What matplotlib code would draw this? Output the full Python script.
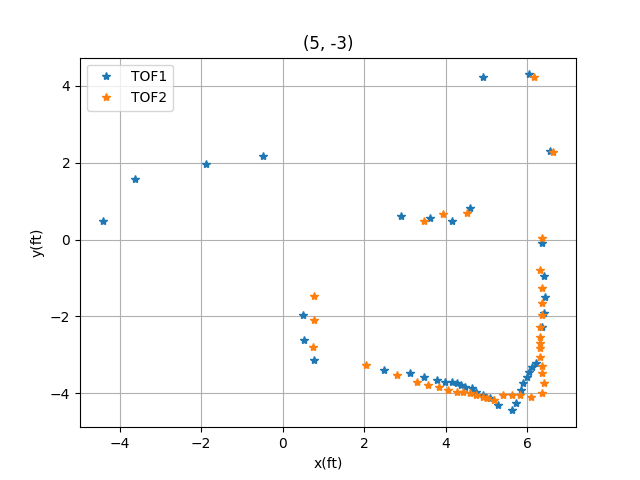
import matplotlib
matplotlib.use('Agg')
import matplotlib.pyplot as plt

# TOF1 readings (ft)
tof1_x = [-4.42, -3.63, -1.89, -0.47, 4.93, 6.06, 6.57,
          2.90, 3.61, 4.15, 4.59,
          0.49, 0.52, 0.76,
          2.50, 3.12, 3.48, 3.78, 3.98, 4.15, 4.27, 4.37, 4.49, 4.64, 4.76,
          4.93, 5.08, 5.30, 5.62, 5.72, 5.86, 5.91, 5.99, 6.06, 6.13, 6.23,
          6.38, 6.41, 6.45, 6.41, 6.38]
tof1_y = [0.49, 1.58, 1.95, 2.18, 4.23, 4.29, 2.30,
          0.60, 0.57, 0.47, 0.83,
          -1.95, -2.60, -3.14,
          -3.38, -3.48, -3.56, -3.64, -3.69, -3.71, -3.74, -3.79, -3.82, -3.87, -3.95,
          -4.03, -4.13, -4.31, -4.44, -4.26, -3.90, -3.74, -3.58, -3.45, -3.30, -3.22,
          -0.10, -0.94, -1.50, -1.92, -2.28]

# TOF2 readings (ft)
tof2_x = [0.76, 0.76, 0.74,
          3.48, 3.95, 4.52,
          6.18, 6.65,
          2.04, 2.82, 3.31, 3.56, 3.83, 4.07, 4.27, 4.44, 4.59, 4.74, 4.91,
          5.03, 5.18, 5.42, 5.62, 5.82, 6.11, 6.38,
          6.36, 6.33, 6.36, 6.36, 6.36, 6.33, 6.33, 6.31, 6.31, 6.31, 6.36,
          6.38, 6.41]
tof2_y = [-1.48, -2.10, -2.78,
          0.47, 0.67, 0.70,
          4.23, 2.28,
          -3.27, -3.51, -3.69, -3.77, -3.84, -3.90, -3.95, -3.97, -4.00, -4.03, -4.08,
          -4.13, -4.18, -4.05, -4.03, -4.03, -4.08, -4.00,
          0.05, -0.78, -1.27, -1.64, -1.97, -2.28, -2.52, -2.70, -2.83, -3.06, -3.29,
          -3.48, -3.74]

fig, ax = plt.subplots(figsize=(6.4, 4.8), dpi=100)
ax.plot(tof1_x, tof1_y, '*', label='TOF1')
ax.plot(tof2_x, tof2_y, '*', label='TOF2')
ax.set_xlabel('x(ft)')
ax.set_ylabel('y(ft)')
ax.set_title('(5, -3)')
ax.grid(True)
ax.legend(loc='upper left')

plt.savefig('out.png', dpi=100)
